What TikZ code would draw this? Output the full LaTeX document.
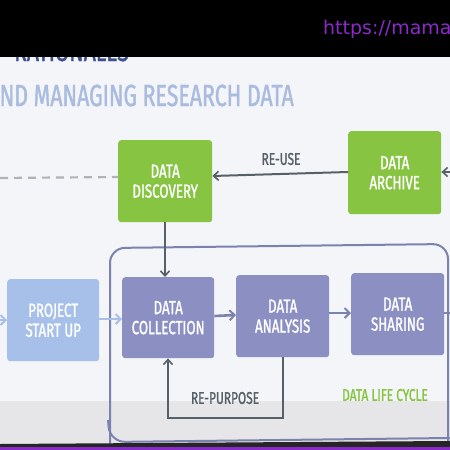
\documentclass[tikz,border=0pt]{standalone}
\usepackage{fontspec}
\setmainfont{Fira Sans}
\newfontfamily\condfont[FakeStretch=0.7,FakeBold=1.3]{Fira Sans}
\newfontfamily\urlfont{DejaVu Sans}
\usetikzlibrary{arrows.meta}
\definecolor{gbox}{HTML}{86C441}
\definecolor{pbox}{HTML}{8B8FC2}
\definecolor{lbox}{HTML}{A6C0E9}
\definecolor{slate}{HTML}{7C82AE}
\definecolor{darkg}{HTML}{566068}
\definecolor{urlc}{HTML}{8A2BC9}
\definecolor{titlec}{HTML}{A9BCE0}
\definecolor{slidebg}{HTML}{F4F5F8}
\definecolor{bandc}{HTML}{E6E6E8}
\definecolor{topc}{HTML}{3E4F8C}
\tikzset{
  box/.style={draw=none, rounded corners=3pt, inner sep=0pt, align=center, text=white,
    font=\condfont\fontsize{19}{20}\selectfont, minimum width=93pt, minimum height=82pt, anchor=north west},
  greenbox/.style={box, fill=gbox},
  purplebox/.style={box, fill=pbox},
  lightbox/.style={box, fill=lbox},
  lbl/.style={font=\condfont\fontsize{17}{18}\selectfont, text=darkg, inner sep=0pt},
  darrow/.style={draw=darkg, line width=2pt, -{Straight Barb[length=5pt,width=9pt,line width=1.6pt]}},
  sarrow/.style={draw=slate, line width=2.6pt, -{Straight Barb[length=5pt,width=10pt,line width=2pt]}},
  larrow/.style={draw=lbox, line width=2.6pt, -{Straight Barb[length=5pt,width=10pt,line width=2pt]}},
}
\begin{document}
\begin{tikzpicture}[x=1pt,y=-1pt]
\useasboundingbox (0,0) rectangle (450,450);
% slide background
\fill[slidebg] (0,57) rectangle (450,446);
\fill[bandc] (0,401) rectangle (450,446);
% cut title above
\node[anchor=base west, inner sep=0pt, font=\condfont\fontsize{30}{30}\selectfont, text=topc] (toptitle) at (14,61) {RATIONALES};
% top black band
\fill[black] (0,0) rectangle (450,57);
\node[anchor=west, inner sep=0pt, font=\urlfont\fontsize{19}{20}\selectfont, text=urlc] (url) at (323,29) {https://mama};
% title
\node[anchor=base east, inner sep=0pt, font=\condfont\fontsize{30.5}{32}\selectfont, text=titlec] (title) at (294,106) {AND MANAGING RESEARCH DATA};
% boxes
\node[greenbox, minimum width=94pt, minimum height=82pt] (disc) at (118,140) {DATA\\DISCOVERY};
\node[greenbox, minimum width=93pt, minimum height=83pt] (arch) at (348,131) {DATA\\ARCHIVE};
\node[lightbox, minimum width=92pt, minimum height=82pt] (proj) at (7,279) {PROJECT\\START UP};
\node[purplebox, minimum width=92pt, minimum height=81pt] (coll) at (122,277) {DATA\\COLLECTION};
\node[purplebox, minimum width=93pt, minimum height=82pt] (anal) at (236,275) {DATA\\ANALYSIS};
\node[purplebox, minimum width=93pt, minimum height=82pt] (shar) at (351,273) {DATA\\SHARING};
% life cycle frame
\draw[slate, line width=2pt, rounded corners=15pt] (110,460) -- (110,248) -- (448,244) -- (448,460);
\draw[slate, line width=2pt, rounded corners=15pt] (108,420) -- (110,442) -- (450,438);
% connectors
\coordinate (dashstart) at (0,178);
\draw[gray!60, line width=2.2pt, dash pattern=on 8pt off 6pt] (dashstart) -- (disc.west |- 0,177);
\draw[darrow] (arch.west |- 0,172) -- (disc.east |- 0,176);
\node[lbl] (reuse) at (281,159) {RE-USE};
\coordinate (archin) at (455,172);
\draw[darrow] (archin) -- (arch.east |- 0,172);
\draw[darrow] (disc.south -| 165,0) -- (coll.north -| 165,0);
\coordinate (projin) at (-5,320);
\draw[larrow] (projin) -- (proj.west |- 0,320);
\draw[larrow] (proj.east |- 0,319) -- (coll.west |- 0,319);
\draw[sarrow] (coll.east |- 0,316) -- (anal.west |- 0,315);
\draw[sarrow] (anal.east |- 0,313) -- (shar.west |- 0,313);
\coordinate (sharout) at (452,313);
\draw[slate, line width=2pt] (shar.east |- 0,313) -- (sharout);
\coordinate (rp1) at (283,418);
\coordinate (rp2) at (168,418);
\draw[darrow] (anal.south -| 283,0) -- (rp1) -- (rp2) -- (coll.south -| 168,0);
\node[lbl] (repurp) at (225,398) {RE-PURPOSE};
\node[lbl, text=gbox] (dlc) at (385,395) {DATA LIFE CYCLE};
% bottom bands
\fill[black!85] (0,444) -- (450,441) -- (450,447) -- (0,447) -- cycle;
\fill[urlc] (0,447) rectangle (450,450);
\end{tikzpicture}
\end{document}
